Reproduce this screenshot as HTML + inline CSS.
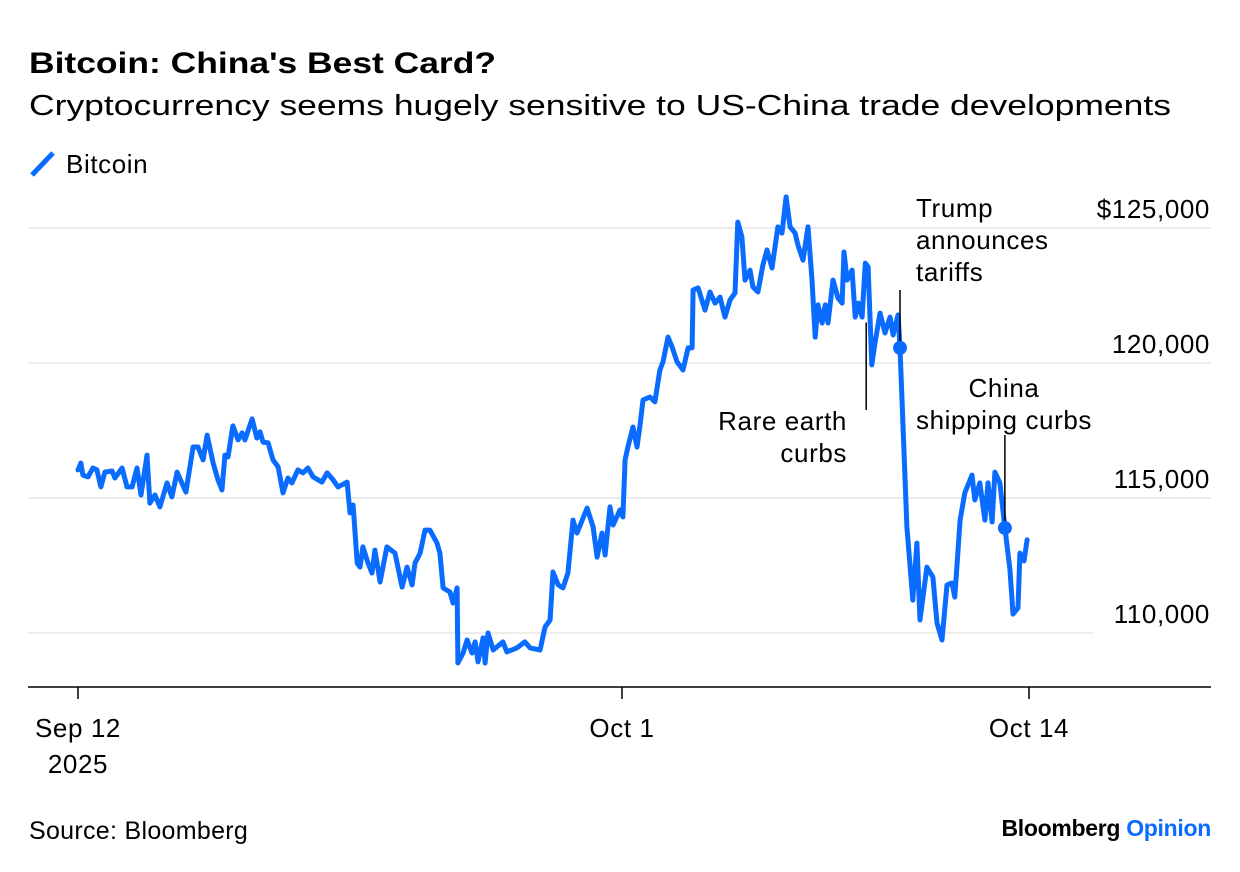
<!DOCTYPE html>
<html><head><meta charset="utf-8"><style>
html,body{margin:0;padding:0;background:#fff;}
svg{display:block;font-family:"Liberation Sans",Arial,sans-serif;}
.lbl{font-size:26px;letter-spacing:0.6px;}
</style></head><body>
<svg id="chart" width="1240" height="872" viewBox="0 0 1240 872">
<text x="29" y="73" font-size="30" font-weight="bold" fill="#000" textLength="467" lengthAdjust="spacingAndGlyphs">Bitcoin: China's Best Card?</text>
<text x="29" y="115" font-size="29" fill="#000" textLength="1142" lengthAdjust="spacingAndGlyphs">Cryptocurrency seems hugely sensitive to US-China trade developments</text>
<g>
<line x1="32" y1="175" x2="53" y2="153" stroke="#0a6cff" stroke-width="5"/>
<text class="lbl" x="66" y="173" fill="#000">Bitcoin</text>
</g>
<g id="grid"></g>
<g id="ylabels"></g>
<g id="xaxis"></g>
<g id="series"></g>
<g id="annots"></g>
<text x="29" y="839" font-size="25" letter-spacing="0.3" fill="#000">Source: Bloomberg</text>
<text x="1211" y="836" font-size="23" font-weight="bold" text-anchor="end" fill="#000" letter-spacing="-0.3">Bloomberg <tspan fill="#0a6cff">Opinion</tspan></text>
</svg>
<script>
const days = [0,0.10,0.17,0.35,0.52,0.66,0.80,0.94,1.19,1.29,1.54,1.71,1.89,2.06,2.20,2.41,2.51,2.69,2.86,3.11,3.28,3.46,3.77,4.02,4.19,4.37,4.51,4.72,4.89,5.03,5.13,5.24,5.41,5.59,5.73,5.83,6.08,6.25,6.36,6.46,6.64,6.81,6.99,7.16,7.33,7.47,7.68,7.86,8.03,8.21,8.52,8.70,8.91,9.08,9.40,9.50,9.61,9.75,9.85,9.95,10.13,10.27,10.37,10.55,10.79,11.07,11.32,11.49,11.67,11.77,11.95,12.12,12.29,12.54,12.64,12.75,12.99,13.10,13.24,13.27,13.45,13.59,13.76,13.87,13.97,14.15,14.22,14.32,14.50,14.84,14.98,15.33,15.61,15.79,16.14,16.31,16.49,16.59,16.77,16.94,17.11,17.29,17.43,17.78,17.99,18.13,18.30,18.41,18.58,18.69,18.93,19.03,19.10,19.19,19.35,19.48,19.57,19.67,19.89,20.05,20.21,20.31,20.47,20.60,20.76,20.95,21.11,21.24,21.27,21.43,21.65,21.81,21.97,22.13,22.29,22.45,22.61,22.70,22.83,22.93,23.09,23.18,23.34,23.50,23.63,23.79,23.98,24.11,24.24,24.37,24.53,24.62,24.78,24.94,25.07,25.17,25.26,25.39,25.49,25.58,25.74,25.90,26.03,26.09,26.19,26.35,26.45,26.55,26.67,26.77,26.86,26.98,27.08,27.24,27.40,27.56,27.66,27.82,27.88,28.10,28.29,28.42,28.52,28.74,28.93,29.06,29.22,29.38,29.54,29.63,29.80,29.95,30.18,30.27,30.43,30.59,30.69,30.82,30.91,31.07,31.23,31.39,31.49,31.65,31.71,31.84,31.94];
const prices = [116040,116295,115850,115780,116110,116040,115410,115960,116000,115740,116110,115410,115410,116110,115110,116590,114810,115110,114670,115560,115040,115960,115220,116890,116890,116410,117330,116300,115670,115300,116590,116520,117670,117150,117410,117150,117930,117220,117450,117070,117040,116410,116150,115190,115740,115560,116040,115930,116110,115780,115590,115930,115670,115410,115590,114450,114740,112590,112440,113190,112590,112220,113070,111890,113190,112960,111700,112440,111780,112590,112960,113810,113810,113330,112960,111670,111520,111110,111670,108890,109260,109740,109260,109670,108930,109820,108890,110000,109370,109670,109300,109450,109670,109450,109370,110220,110480,112260,111780,111670,112220,114180,113700,114630,113930,112810,113700,112890,114670,114000,114560,114300,116410,116890,117630,116890,117630,118630,118740,118560,119740,120040,120960,120590,120040,119740,120560,120560,122700,122780,121960,122630,122220,122440,121700,122330,122590,125220,124670,123070,123440,122820,122630,123630,124190,123520,125040,124810,126150,125040,124810,124370,123810,125040,123070,120960,122150,121480,122150,121480,123070,122410,122220,124110,123070,123440,121700,122220,121700,123700,123560,119930,120740,121850,121110,121700,121040,121780,120560,113930,111220,113330,110480,112440,112070,110370,109740,111780,111850,111330,114180,115190,115850,114930,115560,114180,115560,114110,115960,115560,113890,112370,110700,110930,112960,112670,113450];
const yTicks = [125000,120000,115000,110000];
const yTickLabels = ["$125,000","120,000","115,000","110,000"];
const xTicks = [0,19,32];
const xTickLabels = [["Sep 12","2025"],["Oct 1"],["Oct 14"]];
const annDays = [27.88,26.80,31.23];
const annPrices = [120560,121500,113890];
const annTexts = [["Trump","announces","tariffs"],["Rare earth","curbs"],["China","shipping curbs"]];

const NS="http://www.w3.org/2000/svg";
function mk(tag,attrs,parent){const e=document.createElementNS(NS,tag);for(const k in attrs)e.setAttribute(k,attrs[k]);parent.appendChild(e);return e;}
function xs(d){return d<=19?78+(d/19)*544:622+((d-19)/13)*407;}
function ys(v){return 228+(125000-v)*(135/5000);}
const grid=document.getElementById('grid'),yl=document.getElementById('ylabels'),xa=document.getElementById('xaxis'),ser=document.getElementById('series'),an=document.getElementById('annots');
yTicks.forEach((t,i)=>{
  const g=mk('line',{x1:28,x2:(i===3?1093:1211),y1:ys(t),y2:ys(t),stroke:'#ececec','stroke-width':2},grid);
  
  
  const tx=mk('text',{x:1210,y:ys(t)-18+8,'text-anchor':'end',fill:'#000','class':'lbl'},yl);
  
  
  tx.textContent=yTickLabels[i];
});
const ax=mk('line',{x1:28,x2:1211,y1:687,y2:687,stroke:'#000','stroke-width':1.5},xa);


xTicks.forEach((t,i)=>{
  const tk=mk('line',{x1:xs(t),x2:xs(t),y1:687,y2:699,stroke:'#000','stroke-width':1.5},xa);
  
  
  xTickLabels[i].forEach((s,j)=>{
    const tx=mk('text',{x:xs(t),y:737+j*36,'text-anchor':'middle',fill:'#000','class':'lbl'},xa);
    
    
    tx.textContent=s;
  });
});
let d='';
days.forEach((t,i)=>{d+=(i?'L':'M')+xs(t).toFixed(1)+','+ys(prices[i]).toFixed(1);});
const p=mk('path',{d:d,fill:'none',stroke:'#0a6cff','stroke-width':5,'stroke-linejoin':'round','stroke-linecap':'round'},ser);


const a0x=xs(annDays[0]),a0y=ys(annPrices[0]);
const l0=mk('line',{x1:a0x,x2:a0x,y1:290,y2:a0y,stroke:'#000','stroke-width':1.5},an);


const d0=mk('circle',{cx:a0x,cy:a0y,r:7,fill:'#0a6cff'},an);


annTexts[0].forEach((s,j)=>{const t=mk('text',{x:916,y:217+j*32,fill:'#000','class':'lbl'},an);


t.textContent=s;});
const a1x=xs(annDays[1]);
const l1=mk('line',{x1:a1x,x2:a1x,y1:ys(annPrices[1]),y2:410,stroke:'#000','stroke-width':1.5},an);


annTexts[1].forEach((s,j)=>{const t=mk('text',{x:847,y:430+j*32,'text-anchor':'end',fill:'#000','class':'lbl'},an);


t.textContent=s;});
const a2x=xs(annDays[2]),a2y=ys(annPrices[2]);
const l2=mk('line',{x1:a2x,x2:a2x,y1:435,y2:a2y,stroke:'#000','stroke-width':1.5},an);


const d2=mk('circle',{cx:a2x,cy:a2y,r:7,fill:'#0a6cff'},an);


annTexts[2].forEach((s,j)=>{const t=mk('text',{x:1004,y:397+j*32,'text-anchor':'middle',fill:'#000','class':'lbl'},an);


t.textContent=s;});
</script>
</body></html>
